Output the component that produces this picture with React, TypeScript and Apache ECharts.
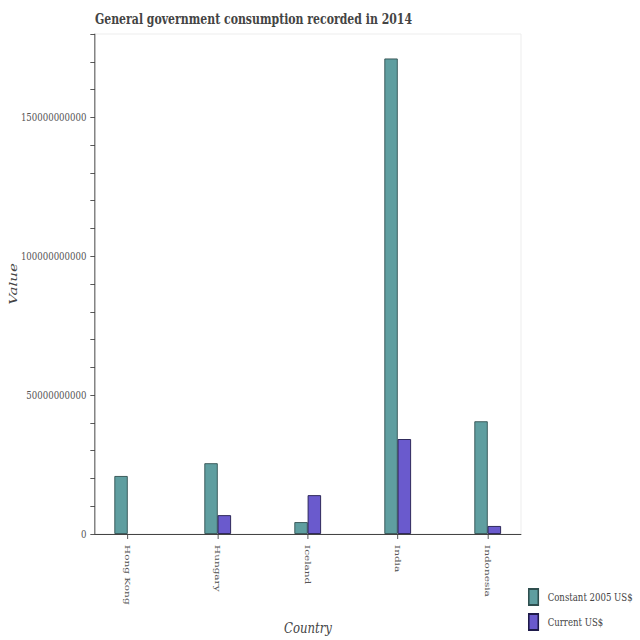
import React, { useEffect, useRef } from "react";
import * as echarts from "echarts";

const countries = ["Hong Kong", "Hungary", "Iceland", "India", "Indonesia"];
const constant2005 = [20.9e9, 25.5e9, 4.3e9, 171.2e9, 40.6e9];
const currentUS = [null, 6.8e9, 14.0e9, 34.2e9, 2.9e9];
const seriesNames = ["Constant 2005 US$", "Current US$"];
const yMax = 180e9;
const yStep = 10e9;
const yLabelStep = 50e9;

// The reference is horizontally compressed; render wider, then squeeze with CSS.
const VIEW_W = 640;
const CHART_W = 820;
const SX = VIEW_W / CHART_W;
const px = (x: number) => x / SX; // reference-x -> chart-space x

const SERIF = "'DejaVu Serif', serif";

export default function App() {
  const ref = useRef<HTMLDivElement>(null);
  useEffect(() => {
    if (!ref.current) return;
    const chart = echarts.init(ref.current, null, { renderer: "svg" });
    chart.setOption({
      animation: false,
      backgroundColor: "#ffffff",
      title: {
        text: "General government consumption recorded in 2014",
        left: px(91),
        top: 7,
        textStyle: { fontFamily: SERIF, fontSize: 14, fontWeight: "bold", color: "#444" },
      },
      legend: {
        orient: "vertical",
        left: px(528),
        top: 588,
        height: 48,
        padding: 0,
        itemWidth: px(9.5),
        itemHeight: 16,
        itemGap: 7,
        icon: "rect",
        data: seriesNames,
        textStyle: { fontFamily: SERIF, fontSize: 11, color: "#444", padding: [0, 0, 0, 7] },
      },
      grid: [
        { left: px(95), top: 34, width: px(521) - px(95), height: 500, show: true, borderColor: "#ebebeb", borderWidth: 1, backgroundColor: "transparent", outerBoundsMode: "none", containLabel: false },
        { left: px(82.7), top: 34, width: px(532.7) - px(82.7), height: 500, outerBoundsMode: "none", containLabel: false },
      ],
      xAxis: [
        {
          gridIndex: 0,
          type: "value",
          min: 0,
          max: 1,
          axisLine: { show: true, lineStyle: { color: "#444", width: 1.2 } },
          axisTick: { show: false },
          axisLabel: { show: false },
          splitLine: { show: false },
          name: "Country",
          nameLocation: "middle",
          nameGap: 86,
          nameMoveOverlap: false,
          nameTextStyle: { fontFamily: SERIF, fontStyle: "italic", fontSize: 15, color: "#444" },
        },
        {
          gridIndex: 1,
          type: "category",
          data: countries,
          axisLine: { show: false },
          axisTick: { show: true, alignWithLabel: true, length: 5, lineStyle: { color: "#444" } },
          axisLabel: { rotate: -90, fontFamily: SERIF, fontSize: 10.5, color: "#555", margin: 11, interval: 0 },
          splitLine: { show: false },
        },
      ],
      yAxis: [
        {
          gridIndex: 0,
          type: "value",
          min: 0,
          max: yMax,
          interval: yStep,
          axisLine: { show: true, lineStyle: { color: "#444", width: 1.2 } },
          axisTick: { show: true, length: 6, lineStyle: { color: "#444" } },
          axisLabel: {
            fontFamily: SERIF,
            fontSize: 11,
            color: "#555",
            margin: 11,
            formatter: (v: number) => (Math.round(v) % yLabelStep === 0 ? String(Math.round(v)) : ""),
          },
          splitLine: { show: false },
          name: "Value",
          nameLocation: "middle",
          nameGap: 98,
          nameRotate: 90,
          nameMoveOverlap: false,
          nameTextStyle: { fontFamily: SERIF, fontStyle: "italic", fontSize: 15, color: "#444" },
        },
        {
          gridIndex: 1,
          type: "value",
          min: 0,
          max: yMax,
          show: false,
          splitLine: { show: false },
        },
      ],
      series: [
        {
          name: seriesNames[0],
          type: "bar",
          xAxisIndex: 1,
          yAxisIndex: 1,
          data: constant2005,
          barWidth: px(13.3),
          barGap: "0%",
          itemStyle: { color: "#5F9EA0", borderColor: "#2f4f4f", borderWidth: 1 },
        },
        {
          name: seriesNames[1],
          type: "bar",
          xAxisIndex: 1,
          yAxisIndex: 1,
          data: currentUS,
          barWidth: px(13.3),
          barGap: "0%",
          itemStyle: { color: "#6A5ACD", borderColor: "#1e1a4a", borderWidth: 1 },
        },
      ],
    });
    return () => chart.dispose();
  }, []);
  return (
    <div style={{ position: "absolute", left: 0, top: 0, width: VIEW_W, height: 640, overflow: "hidden" }}>
      <div
        ref={ref}
        style={{ width: CHART_W, height: 640, transform: `scaleX(${SX})`, transformOrigin: "0 0" }}
      />
    </div>
  );
}
